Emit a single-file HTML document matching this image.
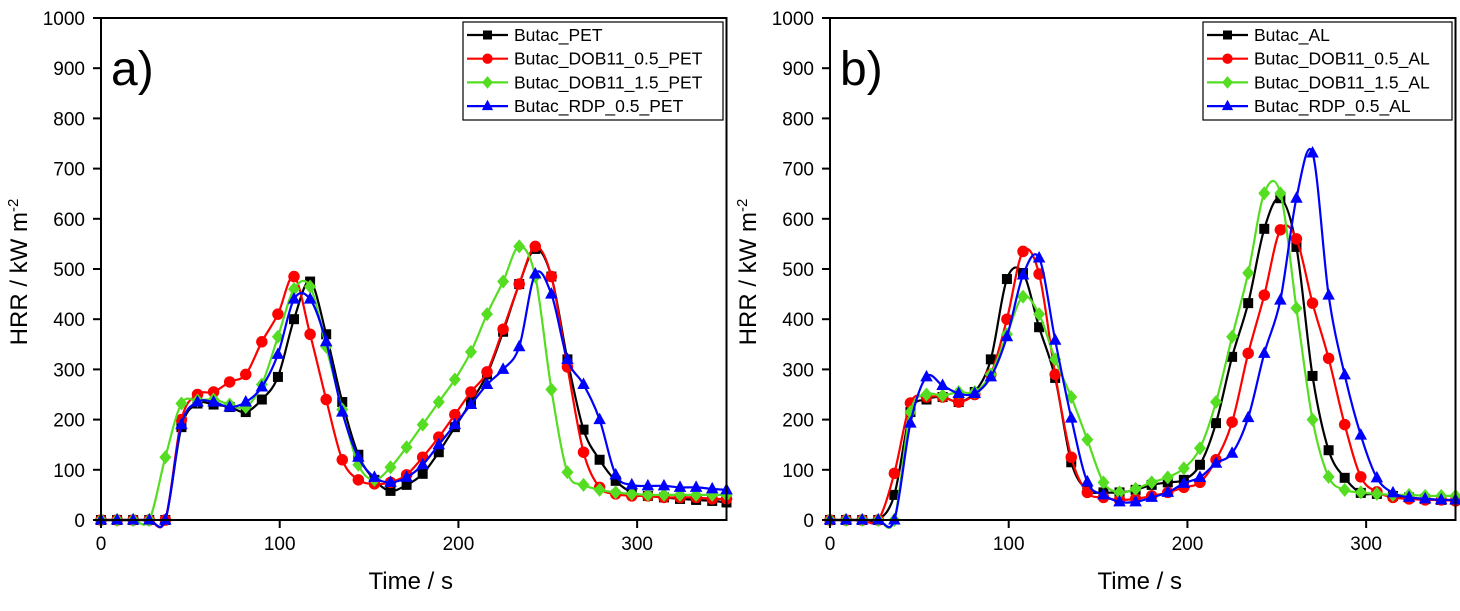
<!DOCTYPE html>
<html><head><meta charset="utf-8">
<style>
body{margin:0;background:#fff;}
svg text{font-family:"Liberation Sans",Arial,sans-serif;fill:#000;}
</style></head>
<body>
<svg id="chart" width="1460" height="606" viewBox="0 0 1460 606" xmlns="http://www.w3.org/2000/svg"></svg>
<script>
const times = [0,9,18,27,36,45,54,63,72,81,90,99,108,117,126,135,144,153,162,171,180,189,198,207,216,225,234,243,252,261,270,279,288,297,306,315,324,333,342,350];
const xTicks = [0,100,200,300];
const yTicks = [0,100,200,300,400,500,600,700,800,900,1000];
const namesA = ["Butac_PET","Butac_DOB11_0.5_PET","Butac_DOB11_1.5_PET","Butac_RDP_0.5_PET"];
const namesB = ["Butac_AL","Butac_DOB11_0.5_AL","Butac_DOB11_1.5_AL","Butac_RDP_0.5_AL"];
const aBlack = [0,0,0,0,0,185,232,230,225,215,240,285,400,475,370,235,130,80,58,70,92,135,185,235,290,375,470,540,485,320,180,120,78,55,48,45,42,40,38,35];
const aRed   = [0,0,0,0,0,200,250,255,275,290,355,410,485,370,240,120,80,72,75,90,125,165,210,255,295,380,470,545,485,305,135,65,52,48,48,45,45,45,42,42];
const aGreen = [0,0,0,0,125,232,238,240,230,225,270,365,460,465,345,220,110,80,105,145,190,235,280,335,410,475,545,485,260,95,70,60,55,52,50,50,50,50,50,50];
const aBlue  = [0,0,0,0,0,190,235,235,225,235,265,330,440,440,355,215,125,85,75,85,110,150,190,230,270,300,345,490,450,320,270,200,90,70,68,68,65,65,62,60];
const bBlack = [0,0,0,0,50,215,240,245,235,255,320,480,492,384,283,115,60,55,55,60,70,75,80,110,193,325,432,580,641,544,287,139,84,54,52,48,45,42,40,40];
const bRed   = [0,0,0,0,93,233,245,245,235,250,290,400,535,490,290,125,55,45,40,42,48,55,65,75,120,195,332,448,578,560,432,322,190,86,56,45,42,40,40,38];
const bGreen = [0,0,0,0,0,215,250,248,255,255,290,370,445,410,320,245,160,75,55,62,75,85,103,143,235,365,492,651,651,422,200,86,60,55,52,50,50,48,48,48];
const bBlue  = [0,0,0,0,0,193,285,268,252,252,285,365,488,522,358,203,76,50,36,36,45,55,73,85,113,133,204,332,438,641,731,448,289,169,84,54,45,42,40,40];

const colors=["#000000","#ff0000","#55dd22","#0000ff"];
const shapes=["square","circle","diamond","triangle"];
const NS="http://www.w3.org/2000/svg";
const svg=document.getElementById('chart');
function mk(tag,attrs,parent){const e=document.createElementNS(NS,tag);for(const k in attrs)e.setAttribute(k,attrs[k]);(parent||svg).appendChild(e);return e;}
function marker(g,shape,x,y,c,s){
  let m;
  if(shape==="square") m=mk('rect',{x:x-s,y:y-s,width:2*s,height:2*s,fill:c},g);
  else if(shape==="circle") m=mk('circle',{cx:x,cy:y,r:s*1.15,fill:c},g);
  else if(shape==="diamond") m=mk('polygon',{points:`${x},${y-s*1.4} ${x+s*1.2},${y} ${x},${y+s*1.4} ${x-s*1.2},${y}`,fill:c},g);
  else m=mk('polygon',{points:`${x},${y-s*1.4} ${x+s*1.25},${y+s*0.9} ${x-s*1.25},${y+s*0.9}`,fill:c},g);
  return m;
}
function smoothPath(p){
  let d=`M${p[0][0].toFixed(1)},${p[0][1].toFixed(1)}`;
  for(let i=0;i<p.length-1;i++){
    const p0=p[i-1]||p[i],p1=p[i],p2=p[i+1],p3=p[i+2]||p2;
    const c1x=p1[0]+(p2[0]-p0[0])/6,c1y=p1[1]+(p2[1]-p0[1])/6;
    const c2x=p2[0]-(p3[0]-p1[0])/6,c2y=p2[1]-(p3[1]-p1[1])/6;
    d+=` C${c1x.toFixed(1)},${c1y.toFixed(1)} ${c2x.toFixed(1)},${c2y.toFixed(1)} ${p2[0].toFixed(1)},${p2[1].toFixed(1)}`;
  }
  return d;
}
function panel(id,x0,label,series,names,legX,legW){
  const x1=x0+625.5, yTop=18, yBot=520;
  const sx=t=>x0+t*(x1-x0)/350;
  const sy=v=>yBot-v*(yBot-yTop)/1000;
  const g=mk('g',{});
  
  
  series.forEach((vals,i)=>{
    const sg=mk('g',{},g);
    
    
    const pts=times.map((t,j)=>[sx(t),sy(vals[j])]);
    const pl=mk('path',{d:smoothPath(pts),fill:'none',stroke:colors[i],'stroke-width':2.2,'stroke-linejoin':'round'},sg);
    
    
    times.forEach((t,j)=>{
      const m=marker(sg,shapes[i],sx(t),sy(vals[j]),colors[i],5);
      
      
    });
  });
  const fr=mk('rect',{x:x0,y:yTop,width:x1-x0,height:yBot-yTop,fill:'none',stroke:'#000','stroke-width':2},g);
  
  
  yTicks.forEach(v=>{
    mk('line',{x1:x0-8,x2:x0,y1:sy(v),y2:sy(v),stroke:'#000','stroke-width':2},g);
    const t=mk('text',{x:x0-16,y:sy(v)+7,'text-anchor':'end','font-size':19},g);
    t.textContent=v;
    
    
  });
  xTicks.forEach(v=>{
    mk('line',{x1:sx(v),x2:sx(v),y1:yBot,y2:yBot+8,stroke:'#000','stroke-width':2},g);
    const t=mk('text',{x:sx(v),y:yBot+30,'text-anchor':'middle','font-size':19},g);
    t.textContent=v;
    
    
  });
  const xt=mk('text',{x:(x0+x1)/2-3,y:589,'text-anchor':'middle','font-size':24},g);
  xt.textContent='Time / s';
  
  
  const yt=mk('text',{transform:`translate(${x0-74},${(yTop+yBot)/2+3}) rotate(-90)`,'text-anchor':'middle','font-size':24},g);
  yt.innerHTML='HRR / kW m<tspan dy="-9" font-size="15">-2</tspan>';
  
  
  const pl=mk('text',{x:x0+10,y:85,'font-size':48},g);
  pl.textContent=label;
  
  
  const lg=mk('g',{},g);
  
  
  mk('rect',{x:legX,y:22,width:legW,height:98,fill:'#fff',stroke:'#000','stroke-width':1.2},lg);
  names.forEach((n,i)=>{
    const y=35+i*23.7;
    const e=mk('g',{},lg);
    
    
    mk('line',{x1:legX+4,x2:legX+45,y1:y,y2:y,stroke:colors[i],'stroke-width':2.2},e);
    marker(e,shapes[i],legX+24.5,y,colors[i],4.5);
    const t=mk('text',{x:legX+51,y:y+6,'font-size':17.5},e);
    t.textContent=n;
  });
}
panel('a',101,'a)',[aBlack,aRed,aGreen,aBlue],namesA,463,260);
panel('b',830,'b)',[bBlack,bRed,bGreen,bBlue],namesB,1203,249);
</script>
</body></html>
